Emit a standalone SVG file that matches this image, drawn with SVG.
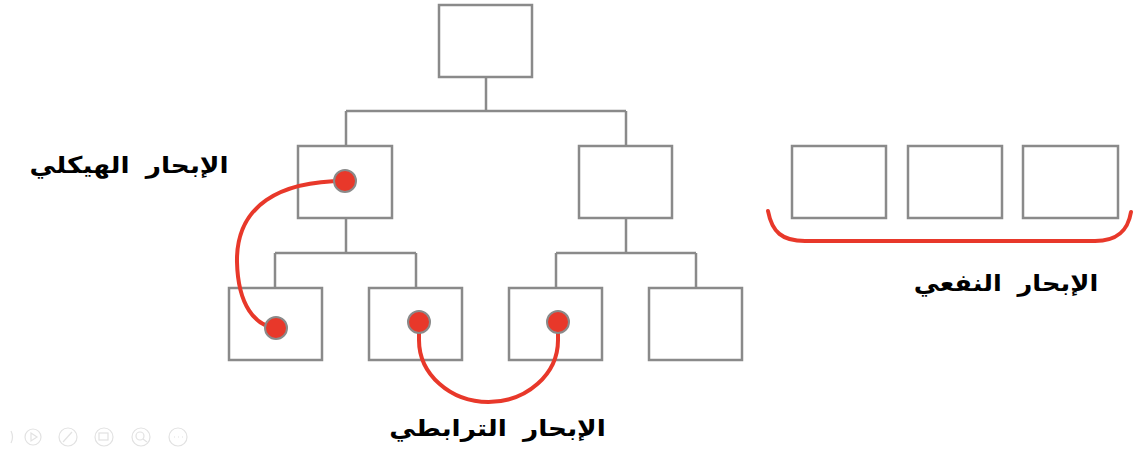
<svg xmlns="http://www.w3.org/2000/svg" width="1134" height="454" viewBox="0 0 1134 454">
<style>
.box{fill:#fff;stroke:#8a8a8a;stroke-width:2.5}
.ln{fill:none;stroke:#8a8a8a;stroke-width:2.5}
.red{fill:none;stroke:#e8382a;stroke-width:4;stroke-linecap:round}
.dot{fill:#e8382a;stroke:#8a8a8a;stroke-width:2}
.lbl{font-family:"DejaVu Sans",sans-serif;font-weight:bold;font-size:23px;fill:#000;word-spacing:6px}
.ui{fill:none;stroke:#e2e2e2;stroke-width:1.2}
</style>
<rect width="1134" height="454" fill="#fff"/>
<g id="connectors">
<path class="ln" d="M486,77V111M346,111H626M346,111V146M626,111V146"/>
<path class="ln" d="M346,218V253M275,253H416M275,253V288M416,253V288"/>
<path class="ln" d="M626,218V253M556,253H696M556,253V288M696,253V288"/>
</g>
<g id="n-root"><rect class="box" x="439" y="5" width="93" height="72"/></g>
<g id="n-l2a"><rect class="box" x="298" y="146" width="94" height="72"/></g>
<g id="n-l2b"><rect class="box" x="579" y="146" width="93" height="72"/></g>
<g id="n-l3a"><rect class="box" x="229" y="288" width="93" height="72"/></g>
<g id="n-l3b"><rect class="box" x="369" y="288" width="93" height="72"/></g>
<g id="n-l3c"><rect class="box" x="509" y="288" width="93" height="72"/></g>
<g id="n-l3d"><rect class="box" x="649" y="288" width="93" height="72"/></g>
<g id="n-r1"><rect class="box" x="792" y="146" width="94" height="72"/></g>
<g id="n-r2"><rect class="box" x="908" y="146" width="94" height="72"/></g>
<g id="n-r3"><rect class="box" x="1023" y="146" width="95" height="72"/></g>
<g id="red-links">
<path class="red" d="M345,181 C280,181 236,205 237,262 C238,305 255,326 276,328"/>
<path class="red" d="M419,322 L419,340 A69.5,62 0 0 0 558,340 L558,322"/>
<path class="red" d="M768,211 C772,232 782,241 805,241 L1095,241 C1118,241 1128,230 1131,212"/>
<circle class="dot" cx="345" cy="181" r="11"/>
<circle class="dot" cx="276" cy="328" r="11"/>
<circle class="dot" cx="419" cy="322" r="11"/>
<circle class="dot" cx="558" cy="322" r="11"/>
</g>
<g id="labels">
<text class="lbl" transform="scale(1.15,1)" x="112.2" y="173" text-anchor="middle" direction="rtl">الإبحار الهيكلي</text>
<text class="lbl" transform="scale(1.15,1)" x="432.6" y="436" text-anchor="middle" direction="rtl">الإبحار الترابطي</text>
<text class="lbl" transform="scale(1.12,1)" x="898.2" y="291" text-anchor="middle" direction="rtl">الإبحار النفعي</text>
</g>
<g id="toolbar">
<path class="ui" d="M11,431 Q14,437 11,443"/>
<circle class="ui" cx="33" cy="437" r="8"/><path class="ui" d="M31,433 L37,437 L31,441Z"/>
<circle class="ui" cx="68" cy="437" r="9"/><path class="ui" d="M63,442 L72,432"/>
<circle class="ui" cx="104" cy="437" r="9"/><rect class="ui" x="99" y="433" width="9" height="7"/>
<circle class="ui" cx="141" cy="437" r="9"/><circle class="ui" cx="140" cy="436" r="4"/><path class="ui" d="M143,439 L147,442"/>
<circle class="ui" cx="178" cy="437" r="9"/><path class="ui" d="M174,437h1M178,437h1M182,437h1"/>
</g>
</svg>
